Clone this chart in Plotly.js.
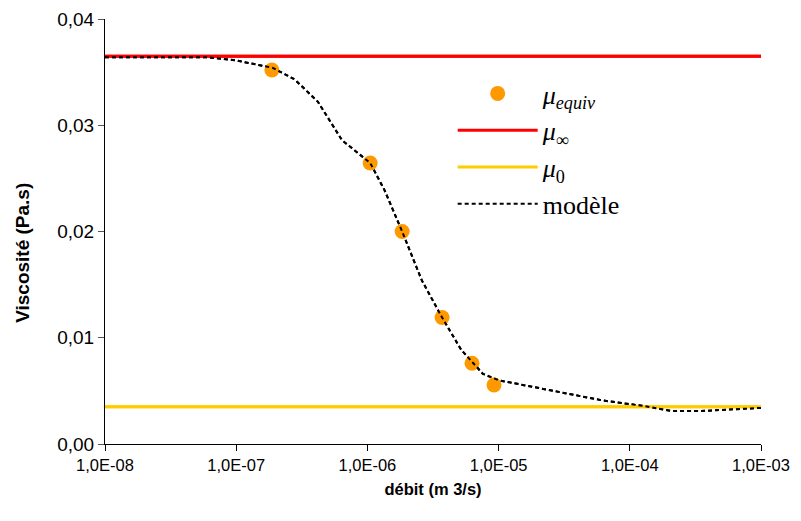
<!DOCTYPE html>
<html>
<head>
<meta charset="utf-8">
<script src="https://cdn.plot.ly/plotly-3.0.1.min.js"></script>
<style>html,body{margin:0;padding:0;background:#fff}#chart{width:801px;height:521px}</style>
</head>
<body>
<div id="chart"></div>
<script>
// Data
var equivX = [1.87e-7, 1.05e-6, 1.84e-6, 3.71e-6, 6.27e-6, 9.23e-6];
var equivY = [0.0352, 0.02645, 0.0200, 0.0119, 0.0076, 0.00555];

var muInf = 0.0365;
var mu0 = 0.0035;
var lineX = [1e-8, 1e-3];

var modelX = [1e-8, 3e-8, 6e-8, 1e-7, 1.9e-7, 2.8e-7, 4.2e-7, 6.4e-7, 1.05e-6, 1.35e-6, 1.84e-6, 2.6e-6, 3.71e-6, 5.2e-6, 7.6e-6, 1.0e-5, 1.55e-5, 3.1e-5, 6.2e-5, 1.24e-4, 2.1e-4, 3.5e-4, 1e-3];
var modelY = [0.0364, 0.0364, 0.0364, 0.0361, 0.0354, 0.0343, 0.0322, 0.0286, 0.02645, 0.0239, 0.0200, 0.0154, 0.0119, 0.00885, 0.0066, 0.0060, 0.00555, 0.0048, 0.0041, 0.0036, 0.0031, 0.0031, 0.0034];

var xTickVals = [1e-8, 1e-7, 1e-6, 1e-5, 1e-4, 1e-3];
var xTickText = ["1,0E-08", "1,0E-07", "1,0E-06", "1,0E-05", "1,0E-04", "1,0E-03"];
var yTickVals = [0, 0.01, 0.02, 0.03, 0.04];
var yTickText = ["0,00", "0,01", "0,02", "0,03", "0,04"];

var traces = [
  {x: modelX, y: modelY, type: 'scatter', mode: 'lines', name: 'modèle',
   line: {color: '#000000', width: 2, dash: '4px,3px'}, showlegend: false},
  {x: lineX, y: [muInf, muInf], type: 'scatter', mode: 'lines', name: 'inf',
   line: {color: '#ff0000', width: 3}, showlegend: false},
  {x: lineX, y: [mu0, mu0], type: 'scatter', mode: 'lines', name: 'zero',
   line: {color: '#ffcc00', width: 3}, showlegend: false},
  {x: equivX, y: equivY, type: 'scatter', mode: 'markers', name: '<i>μ<sub>equiv</sub></i>',
   marker: {color: '#ff9900', size: 15}},
  {x: lineX, y: [muInf, muInf], type: 'scatter', mode: 'lines', name: '<i>μ</i><sub>∞</sub>',
   line: {color: '#ff0000', width: 3}},
  {x: lineX, y: [mu0, mu0], type: 'scatter', mode: 'lines', name: '<i>μ</i><sub>0</sub>',
   line: {color: '#ffcc00', width: 3}},
  {x: modelX, y: modelY, type: 'scatter', mode: 'lines', name: 'modèle',
   line: {color: '#000000', width: 2, dash: '4px,3px'}}
];

var layout = {
  width: 801, height: 521,
  margin: {l: 105, r: 40, t: 19, b: 77},
  paper_bgcolor: '#ffffff', plot_bgcolor: '#ffffff',
  font: {family: 'Liberation Sans, Arial, sans-serif', size: 16, color: '#000'},
  xaxis: {
    type: 'log', range: [-8, -3],
    tickvals: xTickVals, ticktext: xTickText,
    showgrid: false, zeroline: false,
    showline: true, linecolor: '#000', linewidth: 1,
    ticks: 'outside', ticklen: 6, tickcolor: '#000',
    tickfont: {size: 16.5},
    title: {text: '<b>débit (m 3/s)</b>', font: {size: 16.5}, standoff: 10}
  },
  yaxis: {
    range: [0, 0.04],
    tickvals: yTickVals, ticktext: yTickText,
    showgrid: false, zeroline: false,
    showline: true, linecolor: '#000', linewidth: 1,
    ticks: 'outside', ticklen: 6, tickcolor: '#555',
    tickfont: {size: 19}
  },
  annotations: [{
    text: '<b>Viscosité (Pa.s)</b>', textangle: -90,
    xref: 'paper', yref: 'paper', x: -0.127, y: 0.449,
    xanchor: 'center', yanchor: 'middle', showarrow: false,
    font: {size: 19}
  }],
  legend: {
    x: 0.53, y: 0.88, xanchor: 'left', yanchor: 'top',
    bgcolor: 'rgba(0,0,0,0)', borderwidth: 0,
    font: {family: 'Liberation Serif, Times New Roman, serif', size: 26, color: '#000'},
    itemwidth: 80, tracegroupgap: 0
  },
  showlegend: true
};

Plotly.newPlot('chart', traces, layout, {staticPlot: true});
</script>
</body>
</html>
